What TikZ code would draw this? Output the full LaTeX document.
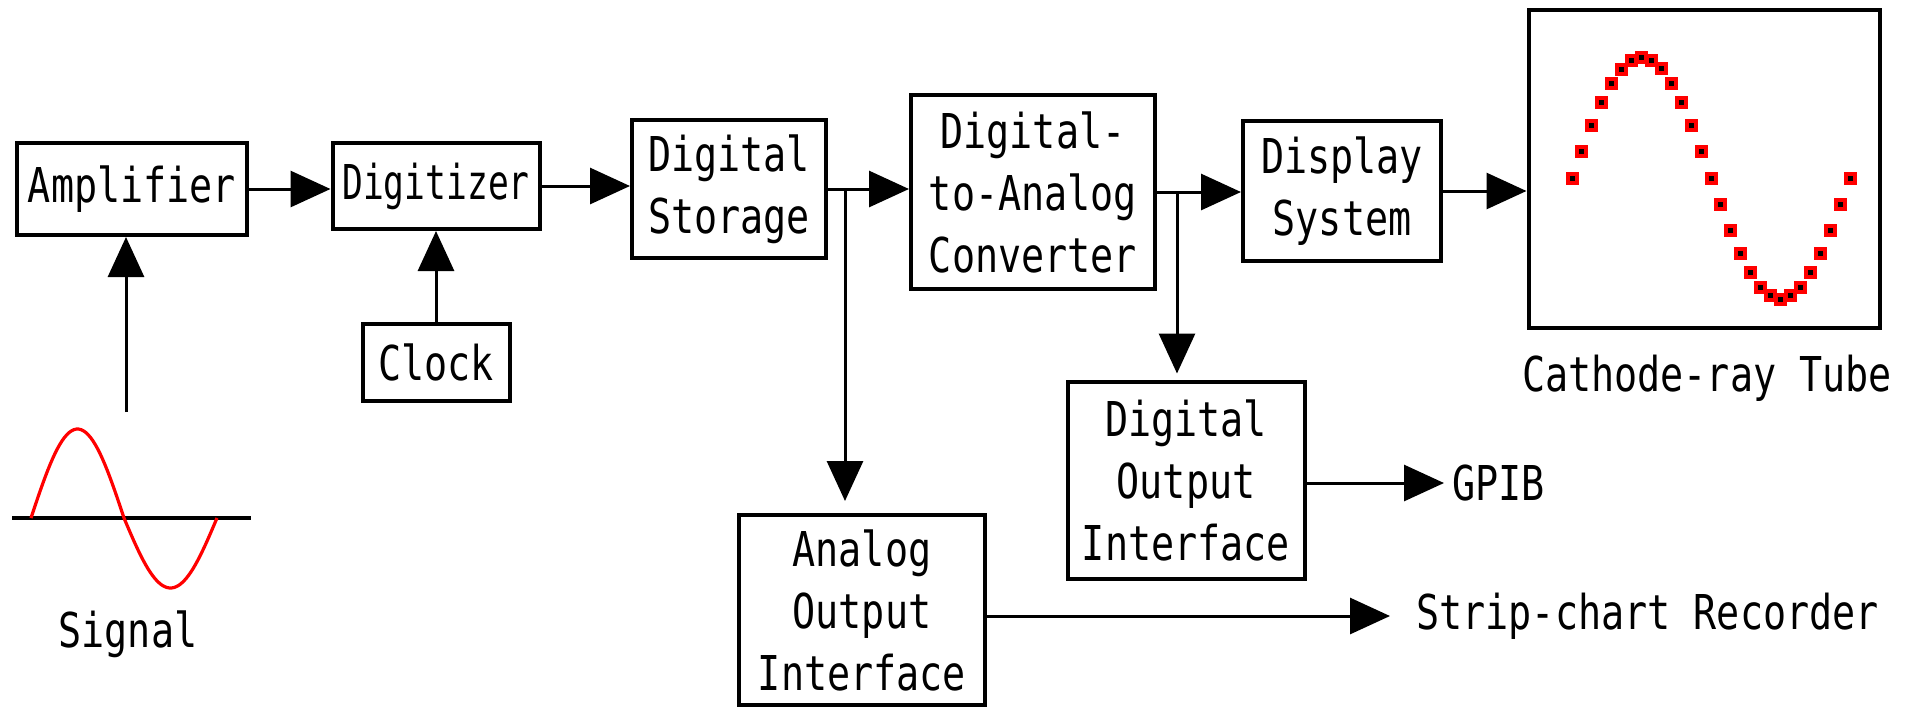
\documentclass[tikz,border=0pt]{standalone}
\usepackage{fontspec}
\newfontfamily\pixfont[FakeStretch=0.8]{DejaVu Sans Mono}
\newfontfamily\pixnarrow[FakeStretch=0.72]{DejaVu Sans Mono}
\usetikzlibrary{arrows.meta}

\begin{document}
\begin{tikzpicture}[
    x=0.5pt, y=-0.5pt,
    every node/.style={font=\pixfont\fontsize{24}{31}\selectfont},
    block/.style={
        draw,
        line width=2pt,
        inner sep=0pt,
        align=center,
    },
    lbl/.style={inner sep=0pt},
    arr/.style={-{Triangle[length=20pt, width=18pt]}, line width=1.5pt},
    outarr/.style={arr, shorten >=#1},
    wave/.style={red, line width=1.6pt},
]
\useasboundingbox (0,0) rectangle (1919,709);

% Main chain
\node[block, minimum width=115pt, minimum height=46pt] (amp) at (132,189) {Amplifier};
\node[block, minimum width=103.5pt, minimum height=43pt,
      font=\pixnarrow\fontsize{24}{31}\selectfont] (digit) at (436,186) {Digitizer};
\node[block, minimum width=73.5pt, minimum height=38.5pt] (clock) at (436,362) {Clock};
\node[block, minimum width=97pt, minimum height=69pt] (store) at (729,189) {Digital\\Storage};
\node[block, minimum width=122pt, minimum height=97pt] (dac) at (1033,192) {Digital-\\to-Analog\\Converter};
\node[block, minimum width=99pt, minimum height=70pt] (disp) at (1342,191) {Display\\System};
\node[block, minimum width=175.5pt, minimum height=159pt] (crt) at (1704,169) {};

% Output interfaces
\node[block, minimum width=118.5pt, minimum height=98.5pt] (dout) at (1186,480) {Digital\\Output\\Interface};
\node[block, minimum width=123pt, minimum height=95pt] (aout) at (862,610) {Analog\\Output\\Interface};

% Plain labels
\node[lbl] (crtlbl) at (1707,378) {Cathode-ray Tube};
\node[lbl] (siglbl) at (128,634) {Signal};
\node[lbl, anchor=west] (gpib) at (1452,483) {GPIB};
\node[lbl, anchor=west] (strip) at (1416,616) {Strip-chart Recorder};

% Input signal
\coordinate (axisl) at (12,518);
\coordinate (axisr) at (251,518);
\coordinate (sigtop) at (126,412);
\draw[line width=2pt] (axisl) -- (axisr);
\draw[wave] plot[domain=0:180, samples=40] ({31+\x/180*93}, {518-89*sin(\x)});
\draw[wave] plot[domain=180:360, samples=40] ({124+(\x-180)/180*93}, {518-70*sin(\x)});

% Samples on the screen
\foreach \i in {0,...,28} {
    \pgfmathsetmacro\px{1572+\i/28*278}
    \pgfmathsetmacro\py{178-121*sin(\i/28*360)}
    \fill[red] (\px,\py) ++(-6.5,-6.5) rectangle ++(13,13);
    \fill (\px,\py) ++(-2.5,-2.5) rectangle ++(5,5);
}

% Arrows
\draw[arr] (sigtop) -- (sigtop |- amp.south);
\draw[arr] (amp.east) -- (amp.east -| digit.west);
\draw[arr] (clock.north) -- (digit.south);
\draw[arr] (digit.east) -- (digit.east -| store.west);
\draw[arr] (store.east) -- (store.east -| dac.west);
\draw[arr] (dac.east) -- (dac.east -| disp.west);
\draw[arr] (disp.east) -- (disp.east -| crt.west);

% Branches to the output interfaces
\coordinate (split1) at (845,190);
\coordinate (split2) at (1177,192);
\draw[outarr=6pt] (split1) -- (split1 |- aout.north);
\draw[outarr=3pt] (split2) -- (split2 |- dout.north);
\draw[outarr=4pt] (dout.east |- gpib.west) -- (gpib.west);
\draw[outarr=13pt] (aout.east |- strip.west) -- (strip.west);

\end{tikzpicture}
\end{document}
